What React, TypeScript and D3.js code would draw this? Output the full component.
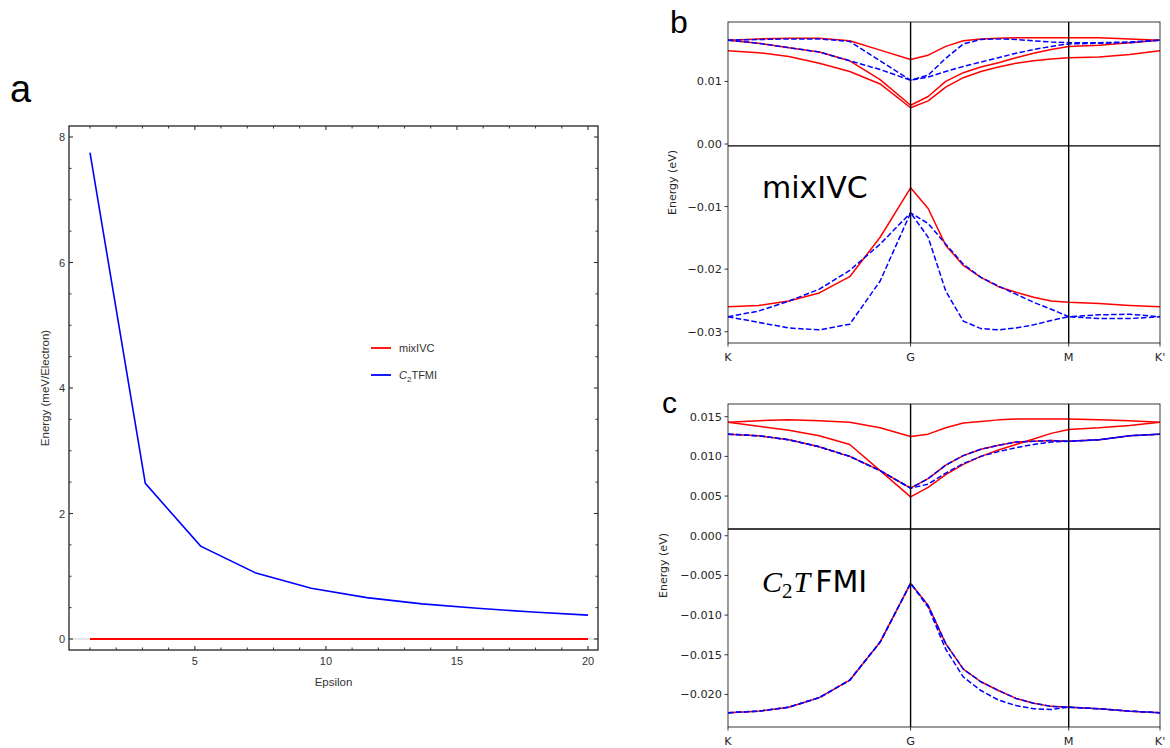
import React from 'react';
import * as d3 from 'd3';

// ---------- Panel a data ----------
const epsilon = [1, 3.11, 5.22, 7.33, 9.44, 11.56, 13.67, 15.78, 17.89, 20];
const energyC2TFMI = [7.75, 2.48, 1.48, 1.05, 0.81, 0.66, 0.56, 0.49, 0.43, 0.38];
const energyMixIVC = [0, 0, 0, 0, 0, 0, 0, 0, 0, 0];
const aYTicks = [0, 2, 4, 6, 8];
const aXTicks = [5, 10, 15, 20];

// ---------- Panels b, c: k-path ----------
const kPath = [0, 0.1667, 0.3333, 0.5, 0.6667, 0.8333, 1.0, 1.0962, 1.1925, 1.2887, 1.3849, 1.4811, 1.5774, 1.6736, 1.7698, 1.866, 2.0327, 2.1993, 2.366];
const kTickPos = [0, 1, 1.866, 2.366];
const kTickLabels = ['K', 'G', 'M', "K'"];

// Panel b (mixIVC), meV
const bRedA = [16.6, 16.8, 16.9, 16.9, 16.5, 15.0, 13.5, 14.2, 15.6, 16.5, 16.8, 16.9, 17.0, 17.0, 17.0, 17.0, 17.0, 16.8, 16.6];
const bRedB = [16.6, 16.1, 15.4, 14.7, 13.3, 10.3, 6.2, 7.6, 10.0, 11.4, 12.3, 13.0, 13.8, 14.5, 15.1, 15.6, 15.8, 16.2, 16.6];
const bRedC = [14.9, 14.6, 14.0, 12.9, 11.6, 9.6, 5.8, 6.9, 9.1, 10.6, 11.6, 12.3, 12.9, 13.3, 13.6, 13.8, 13.9, 14.3, 14.9];
const bRedV = [-26.0, -25.8, -25.1, -23.8, -21.2, -14.9, -7.0, -10.3, -16.2, -19.4, -21.3, -22.8, -23.7, -24.5, -25.1, -25.3, -25.5, -25.8, -26.0];
const bBlueD = [16.6, 16.7, 16.8, 16.8, 16.4, 13.3, 10.2, 11.0, 13.7, 16.0, 16.7, 16.8, 16.7, 16.5, 16.3, 16.2, 16.2, 16.3, 16.6];
const bBlueE = [16.6, 16.1, 15.4, 14.7, 13.3, 11.9, 10.2, 10.7, 11.6, 12.4, 13.1, 13.8, 14.5, 15.1, 15.6, 16.0, 16.1, 16.2, 16.6];
const bBlueV1 = [-27.6, -26.7, -25.1, -23.2, -20.2, -16.0, -11.0, -12.7, -16.0, -19.2, -21.3, -22.7, -24.0, -25.3, -26.4, -27.6, -27.3, -27.2, -27.6];
const bBlueV2 = [-27.6, -28.5, -29.4, -29.7, -28.8, -21.9, -11.0, -14.9, -23.5, -28.3, -29.5, -29.7, -29.4, -28.9, -28.2, -27.6, -27.9, -27.9, -27.6];
const bYTicks = [0.01, 0, -0.01, -0.02, -0.03];
const bMu = -0.0003;

// Panel c (C2T FMI), meV
const cRed1 = [14.3, 14.5, 14.6, 14.5, 14.3, 13.6, 12.5, 12.8, 13.6, 14.2, 14.4, 14.6, 14.7, 14.7, 14.7, 14.7, 14.6, 14.5, 14.3];
const cRed2 = [14.3, 13.8, 13.3, 12.6, 11.5, 8.2, 4.9, 6.1, 7.7, 9.0, 10.0, 10.8, 11.5, 12.2, 12.9, 13.4, 13.6, 13.9, 14.3];
const cCondUpper = [12.8, 12.6, 12.1, 11.2, 10.0, 8.2, 6.0, 7.2, 8.9, 10.1, 10.9, 11.4, 11.8, 11.9, 12.0, 11.9, 12.1, 12.6, 12.8];
const cCondLower = [12.8, 12.6, 12.1, 11.2, 10.0, 8.2, 6.0, 6.5, 7.9, 9.1, 10.0, 10.6, 11.1, 11.5, 11.8, 11.9, 12.1, 12.6, 12.8];
const cValUpper = [-22.3, -22.1, -21.6, -20.4, -18.2, -13.4, -6.0, -8.8, -13.6, -16.8, -18.4, -19.5, -20.5, -21.1, -21.5, -21.6, -21.8, -22.1, -22.3];
const cValLower = [-22.3, -22.1, -21.6, -20.4, -18.2, -13.4, -6.0, -9.0, -14.3, -17.8, -19.5, -20.7, -21.4, -21.8, -21.9, -21.6, -21.8, -22.1, -22.3];
const cYTicks = [0.015, 0.01, 0.005, 0, -0.005, -0.01, -0.015, -0.02];
const cMu = 0.00085;

const RED = '#ff0000';
const BLUE = '#0000ff';
const MPL_FONT = 'DejaVu Sans, sans-serif';
const MMA_FONT = 'Liberation Sans, Arial, sans-serif';

function PanelA() {
  const fl = 69, ft = 126, fr = 598, fb = 650;
  const x = d3.scaleLinear().domain([1, 20]).range([90, 588]);
  const y = d3.scaleLinear().domain([0, 8]).range([639, 137]);
  const line = d3.line<number>().x((_, i) => x(epsilon[i])).y(d => y(d));
  const yMinor = d3.range(0, 8.001, 0.5).filter(v => !aYTicks.includes(v));
  const xMinor = d3.range(1, 20.001, 1).filter(v => !aXTicks.includes(v));
  const tc = '#333';
  return (
    <g>
      <text x={10} y={102} fontFamily={MMA_FONT} fontSize={38}>a</text>
      {/* gray axis at zero */}
      <line x1={fl} x2={fr} y1={y(0)} y2={y(0)} stroke="#d0d0d0" strokeWidth={1.2} />
      <path d={line(energyMixIVC) || ''} fill="none" stroke={RED} strokeWidth={1.8} />
      <path d={line(energyC2TFMI) || ''} fill="none" stroke={BLUE} strokeWidth={1.6} />
      <rect x={fl} y={ft} width={fr - fl} height={fb - ft} fill="none" stroke="#333" strokeWidth={1.4} />
      {aYTicks.map(v => (
        <g key={'ay' + v}>
          <line x1={fl} x2={fl + 4} y1={y(v)} y2={y(v)} stroke={tc} strokeWidth={1.1} />
          <line x1={fr} x2={fr - 4} y1={y(v)} y2={y(v)} stroke={tc} strokeWidth={1.1} />
          <text x={fl - 4} y={y(v) + 4} textAnchor="end" fontFamily={MMA_FONT} fontSize={11} fill={tc}>{v}</text>
        </g>
      ))}
      {yMinor.map(v => (
        <g key={'aym' + v}>
          <line x1={fl} x2={fl + 2.5} y1={y(v)} y2={y(v)} stroke={tc} strokeWidth={1} />
          <line x1={fr} x2={fr - 2.5} y1={y(v)} y2={y(v)} stroke={tc} strokeWidth={1} />
        </g>
      ))}
      {aXTicks.map(v => (
        <g key={'ax' + v}>
          <line x1={x(v)} x2={x(v)} y1={fb} y2={fb - 4} stroke={tc} strokeWidth={1.1} />
          <line x1={x(v)} x2={x(v)} y1={ft} y2={ft + 4} stroke={tc} strokeWidth={1.1} />
          <text x={x(v)} y={fb + 15} textAnchor="middle" fontFamily={MMA_FONT} fontSize={11} fill={tc}>{v}</text>
        </g>
      ))}
      {xMinor.map(v => (
        <g key={'axm' + v}>
          <line x1={x(v)} x2={x(v)} y1={fb} y2={fb - 2.5} stroke={tc} strokeWidth={1} />
          <line x1={x(v)} x2={x(v)} y1={ft} y2={ft + 2.5} stroke={tc} strokeWidth={1} />
        </g>
      ))}
      <text x={(fl + fr) / 2} y={686} textAnchor="middle" fontFamily={MMA_FONT} fontSize={11.5} fill={tc}>Epsilon</text>
      <text transform={`translate(49,${(ft + fb) / 2}) rotate(-90)`} textAnchor="middle" fontFamily={MMA_FONT} fontSize={11.5} fill={tc}>Energy (meV/Electron)</text>
      {/* legend */}
      <line x1={371} x2={391} y1={348} y2={348} stroke={RED} strokeWidth={1.8} />
      <text x={399} y={352} fontFamily={MMA_FONT} fontSize={11} fill={tc}>mixIVC</text>
      <line x1={371} x2={391} y1={375} y2={375} stroke={BLUE} strokeWidth={1.8} />
      <text x={399} y={379} fontFamily={MMA_FONT} fontSize={11} fill={tc}>
        <tspan fontStyle="italic">C</tspan>
        <tspan fontSize={8} dy={3}>2</tspan>
        <tspan dy={-3}>TFMI</tspan>
      </text>
    </g>
  );
}

interface BandPanelProps {
  top: number;
  bottom: number;
  yDomain: [number, number];
  yTicks: number[];
  fmt: string;
  mu: number;
  reds: number[][];
  blues: number[][];
  labelX: number;
}

function BandPanel(p: BandPanelProps) {
  const left = 728, right = 1160;
  const x = d3.scaleLinear().domain([0, 2.366]).range([left, right]);
  const y = d3.scaleLinear().domain(p.yDomain).range([p.bottom, p.top]);
  const line = d3.line<number>().x((_, i) => x(kPath[i])).y(d => y(d / 1000));
  const f = d3.format(p.fmt);
  return (
    <g>
      <defs>
        <clipPath id={'clip' + p.top}>
          <rect x={left} y={p.top} width={right - left} height={p.bottom - p.top} />
        </clipPath>
      </defs>
      <g clipPath={`url(#clip${p.top})`}>
        {p.reds.map((d, i) => (
          <path key={'r' + i} d={line(d) || ''} fill="none" stroke={RED} strokeWidth={1.5} strokeLinejoin="round" />
        ))}
        {p.blues.map((d, i) => (
          <path key={'b' + i} d={line(d) || ''} fill="none" stroke={BLUE} strokeWidth={1.5} strokeDasharray="5.5 2.4" />
        ))}
      </g>
      <line x1={left} x2={right} y1={y(p.mu)} y2={y(p.mu)} stroke="#000" strokeWidth={1.4} />
      {kTickPos.slice(1, 3).map(k => (
        <line key={'v' + k} x1={x(k)} x2={x(k)} y1={p.top} y2={p.bottom} stroke="#000" strokeWidth={1.4} />
      ))}
      <rect x={left} y={p.top} width={right - left} height={p.bottom - p.top} fill="none" stroke="#222" strokeWidth={0.9} />
      {p.yTicks.map(v => (
        <g key={'yt' + v}>
          <line x1={left} x2={left - 3.5} y1={y(v)} y2={y(v)} stroke="#222" strokeWidth={0.9} />
          <text x={left - 6} y={y(v) + 4} textAnchor="end" fontFamily={MPL_FONT} fontSize={11.3} fill="#262626">{f(v)}</text>
        </g>
      ))}
      {kTickPos.map((k, i) => (
        <g key={'xt' + k}>
          <line x1={x(k)} x2={x(k)} y1={p.bottom} y2={p.bottom + 3.5} stroke="#222" strokeWidth={0.9} />
          <text x={x(k)} y={p.bottom + 18} textAnchor="middle" fontFamily={MPL_FONT} fontSize={11.3} fill="#262626">{kTickLabels[i]}</text>
        </g>
      ))}
      <text transform={`translate(${p.labelX},${(p.top + p.bottom) / 2}) rotate(-90)`} textAnchor="middle" fontFamily={MPL_FONT} fontSize={11} fill="#262626">Energy (eV)</text>
    </g>
  );
}

export default function App() {
  return (
    <svg width={1170} height={748} style={{ position: 'absolute', left: 0, top: 0, background: '#fff' }}>
      <rect x={0} y={0} width={1170} height={748} fill="#fff" />
      <PanelA />
      <text x={670} y={33} fontFamily={MMA_FONT} fontSize={32}>b</text>
      <BandPanel
        top={22}
        bottom={343}
        yDomain={[-0.0318, 0.0195]}
        yTicks={bYTicks}
        fmt=".2f"
        mu={bMu}
        reds={[bRedA, bRedB, bRedC, bRedV]}
        blues={[bBlueD, bBlueE, bBlueV1, bBlueV2]}
        labelX={676}
      />
      <text x={762} y={198} fontFamily={MPL_FONT} fontSize={30}>mixIVC</text>
      <text x={662} y={413} fontFamily={MMA_FONT} fontSize={30}>c</text>
      <BandPanel
        top={404}
        bottom={727}
        yDomain={[-0.0241, 0.0166]}
        yTicks={cYTicks}
        fmt=".3f"
        mu={cMu}
        reds={[cRed1, cRed2, cCondUpper, cValUpper]}
        blues={[cCondUpper, cCondLower, cValUpper, cValLower]}
        labelX={667}
      />
      <text x={762} y={592} fontSize={30}>
        <tspan fontFamily="Liberation Serif, serif" fontStyle="italic">C</tspan>
        <tspan fontFamily="Liberation Serif, serif" fontSize={21} dy={6}>2</tspan>
        <tspan fontFamily="Liberation Serif, serif" fontStyle="italic" dy={-6} dx={1}>T</tspan>
        <tspan fontFamily={MPL_FONT} dx={5}>FMI</tspan>
      </text>
    </svg>
  );
}
